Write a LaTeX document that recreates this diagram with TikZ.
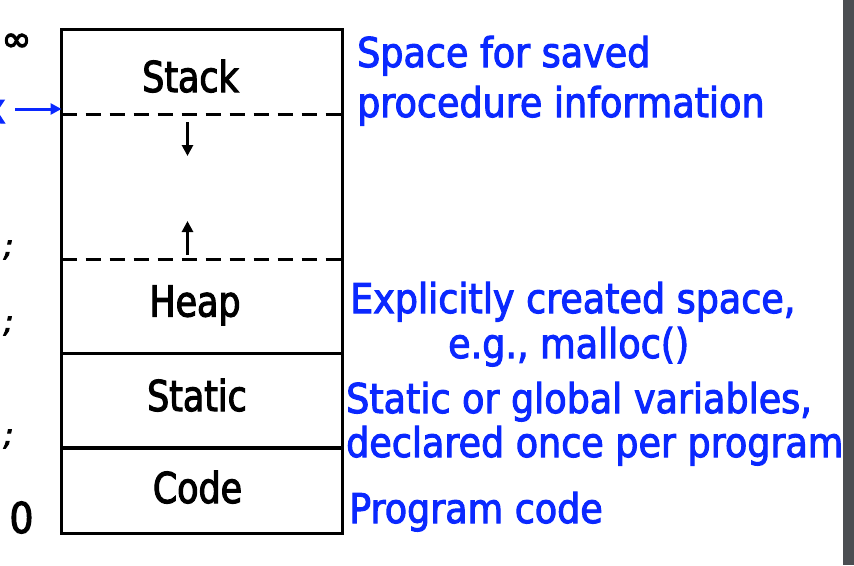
\documentclass[tikz,border=0pt]{standalone}
\usepackage{fontspec}
\setmainfont{DejaVu Sans}
\newfontfamily\blkfont[FakeStretch=0.82,FakeBold=2.5]{DejaVu Sans}
\newfontfamily\blufont[FakeStretch=0.89,FakeBold=2.5]{DejaVu Sans}
\newfontfamily\symfont[FakeBold=3]{DejaVu Sans}
\newfontfamily\semifont[FakeBold=3]{DejaVu Sans Oblique}
\usetikzlibrary{arrows.meta}
\definecolor{tblue}{RGB}{10,40,255}
\definecolor{bargray}{RGB}{75,78,82}
\begin{document}
\begin{tikzpicture}[x=1pt,y=-1pt,
  seg/.style={anchor=base,inner sep=0pt,font=\blkfont\fontsize{42.5}{50}\selectfont},
  note/.style={anchor=base west,inner sep=0pt,text=tblue,font=\blufont\fontsize{41}{50}\selectfont},
  sidelbl/.style={inner sep=0pt,font=\semifont\fontsize{30}{34}\selectfont},
  boxline/.style={line width=3.2pt},
  dashline/.style={line width=2.7pt,dash pattern=on 15pt off 9pt},
  growarrow/.style={line width=2.7pt,-{Triangle[length=11pt,width=11pt]}},
  ptrarrow/.style={tblue,line width=3pt,-{Triangle[length=11pt,width=11pt]}}]
\useasboundingbox (0,0) rectangle (854,565);
\fill[white] (0,0) rectangle (854,565);
% box corners and divider coordinates
\coordinate (tl) at (61.5,29.5);
\coordinate (br) at (342.5,533.5);
\coordinate (d1l) at (61.5,114.5);
\coordinate (d1r) at (342.5,114.5);
\coordinate (d2l) at (61.5,259.5);
\coordinate (d2r) at (342.5,259.5);
\coordinate (s1l) at (61.5,353.5);
\coordinate (s1r) at (342.5,353.5);
\coordinate (s2l) at (61.5,448);
\coordinate (s2r) at (342.5,448);
\draw[dashline] (d1l) -- (d1r);
\draw[dashline] (d2l) -- (d2r);
\draw[boxline] (s1l) -- (s1r);
\draw[boxline] (s2l) -- (s2r);
\draw[boxline] (tl) rectangle (br);
% growth arrows
\coordinate (dnA) at (187.5,122);
\coordinate (dnB) at (187.5,156);
\coordinate (upA) at (187.5,255);
\coordinate (upB) at (187.5,221);
\draw[growarrow] (dnA) -- (dnB);
\draw[growarrow] (upA) -- (upB);
% segment labels
\node[seg] (stack) at (190.5,92) {Stack};
\node[seg] (heap) at (195,316.5) {Heap};
\node[seg] (static) at (197,411) {Static};
\node[seg] (code) at (197.5,503) {Code};
% left labels
\node[inner sep=0pt,font=\symfont\fontsize{36}{40}\selectfont] (inf) at (16.5,42.5) {∞};
\node[inner sep=0pt,anchor=base east,text=tblue,font=\blufont\fontsize{42}{50}\selectfont] (xlbl) at (6,123) {x};
\coordinate (sptop) at (61.5,109);
\draw[ptrarrow] ([xshift=9pt]xlbl.east |- sptop) -- (sptop);
\node[sidelbl] (semi1) at (8.5,250) {;};
\node[sidelbl] (semi2) at (8.5,326) {;};
\node[sidelbl] (semi3) at (8.5,439) {;};
\node[anchor=base,inner sep=0pt,font=\blufont\fontsize{42.5}{50}\selectfont] (zero) at (21.5,533) {0};
% notes
\node[note] (n1a) at (357,67) {Space for saved};
\node[note] (n1b) at (357,117) {procedure information};
\node[note] (n2a) at (350,313) {Explicitly created space,};
\node[note] (n2b) at (448,358) {e.g., malloc()};
\node[note] (n3a) at (346,413) {Static or global variables,};
\node[note] (n3b) at (346,457) {declared once per program};
\node[note] (n4) at (349,523) {Program code};
% window edge
\fill[bargray] (843,0) rectangle (854,565);
\end{tikzpicture}
\end{document}
